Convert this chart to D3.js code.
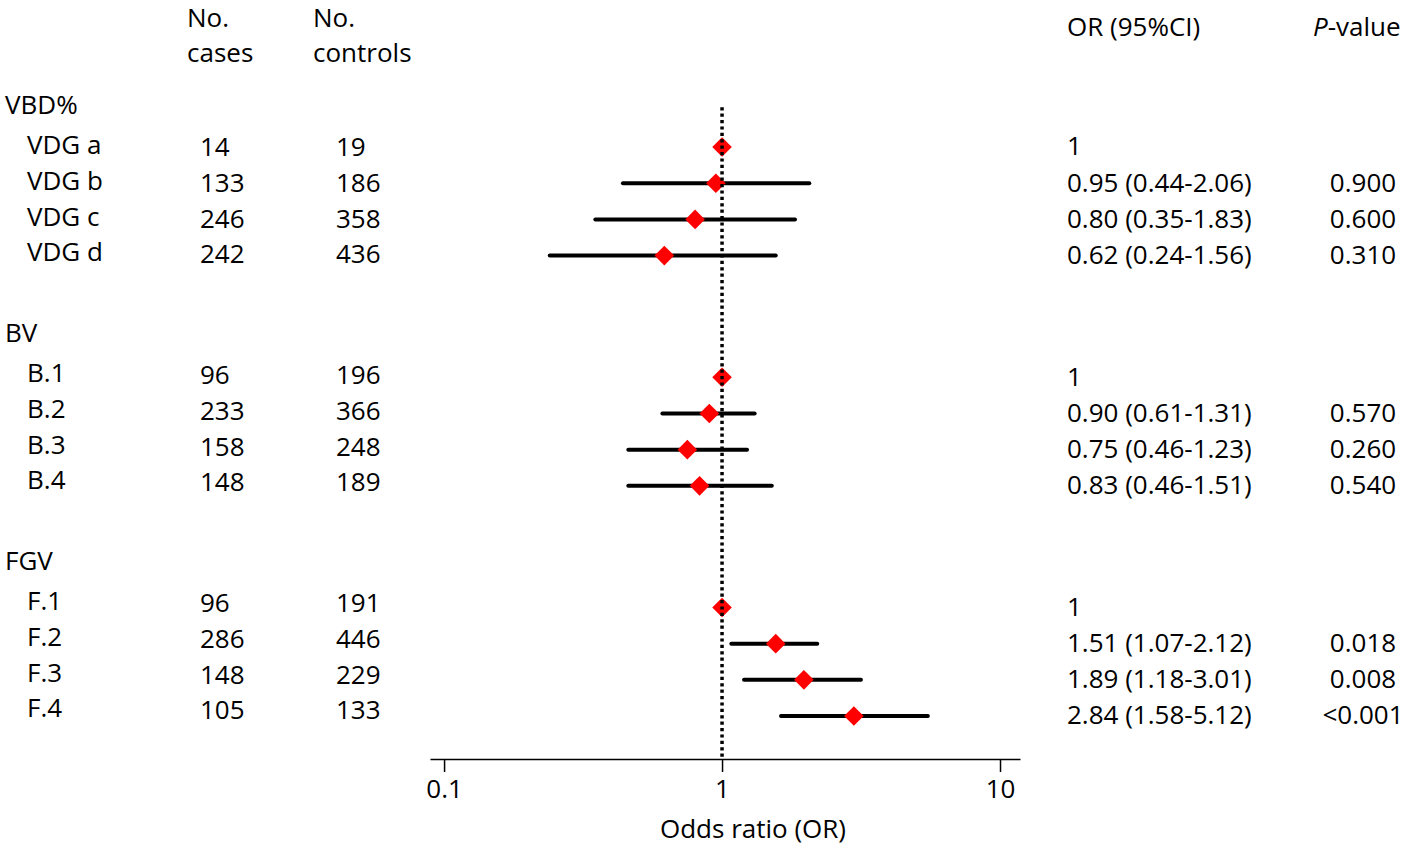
<!DOCTYPE html>
<html><head><meta charset="utf-8">
<script src="https://cdn.jsdelivr.net/npm/d3@7"></script>
<style>
body{margin:0;background:#fff}
svg{display:block}
text{font-family:"Open Sans",sans-serif;font-size:26px;fill:#000}
</style>
</head><body><svg id="chart" width="1415" height="849"></svg>
<script>
// ---- data ----
const groups = ["VBD%", "BV", "FGV"];
const labels = ["VDG a","VDG b","VDG c","VDG d","B.1","B.2","B.3","B.4","F.1","F.2","F.3","F.4"];
const groupIndex = [0,0,0,0,1,1,1,1,2,2,2,2];
const itemIndex  = [0,1,2,3,0,1,2,3,0,1,2,3];
const cases    = [14,133,246,242,96,233,158,148,96,286,148,105];
const controls = [19,186,358,436,196,366,248,189,191,446,229,133];
// text column values
const orLabels = ["1","0.95 (0.44-2.06)","0.80 (0.35-1.83)","0.62 (0.24-1.56)",
                  "1","0.90 (0.61-1.31)","0.75 (0.46-1.23)","0.83 (0.46-1.51)",
                  "1","1.51 (1.07-2.12)","1.89 (1.18-3.01)","2.84 (1.58-5.12)"];
const pValues  = ["","0.900","0.600","0.310","","0.570","0.260","0.540","","0.018","0.008","<0.001"];
// plotted estimates as drawn in the figure
const orValues = [1,0.95,0.80,0.62,1,0.90,0.75,0.83,1,1.56,1.97,2.98];
const ciLower  = [null,0.44,0.35,0.24,null,0.61,0.46,0.46,null,1.08,1.20,1.63];
const ciUpper  = [null,2.06,1.83,1.56,null,1.31,1.23,1.51,null,2.20,3.16,5.50];
const xTicks = [0.1, 1, 10];
const xTickLabels = ["0.1", "1", "10"];
const xExtent = [0.089, 11.8];
const refValue = 1;

// ---- layout ----
const svg = d3.select("#chart");
const groupStep = 6.36;
const rowPos = (g, i) => g * groupStep + i;
const y = d3.scaleLinear().domain([0, 1]).range([147, 183.2]);      // marks
const yText = d3.scaleLinear().domain([0, 1]).range([146.5, 182.35]); // left text columns
const x = d3.scaleLog().domain(xExtent).range([430, 1020]);
const axisY = 759;
const half = 9.3; // half digit height -> baseline offset

const col = {group: 5, label: 27, cases: 200, controls: 336, or: 1067, p: 1363};

// headers
const hdr = svg.append("g");
hdr.append("text").attr("x", 187).attr("y", 27).attr("font-size", 25).text("No.");
hdr.append("text").attr("x", 187).attr("y", 62).attr("font-size", 25).text("cases");
hdr.append("text").attr("x", 313).attr("y", 27).attr("font-size", 25).text("No.");
hdr.append("text").attr("x", 313).attr("y", 62).attr("font-size", 25).text("controls");
hdr.append("text").attr("x", col.or).attr("y", 36).text("OR (95%CI)");
const ph = hdr.append("text").attr("x", 1313).attr("y", 36);
ph.append("tspan").attr("font-style", "italic").text("P");
ph.append("tspan").text("-value");

// group headers
svg.append("g").selectAll("text").data(groups).join("text")
  .attr("x", col.group)
  .attr("y", (d, g) => yText(rowPos(g, 0) - 1.16) + half)
  .text(d => d);

const rows = labels.map((l, k) => ({
  label: l, g: groupIndex[k], i: itemIndex[k], cases: cases[k], controls: controls[k],
  or: orValues[k], lo: ciLower[k], hi: ciUpper[k], orLabel: orLabels[k], p: pValues[k]
}));
const ry = d => y(rowPos(d.g, d.i));
const ty = d => yText(rowPos(d.g, d.i));

const rowG = svg.append("g");
rowG.selectAll(".lab").data(rows).join("text").attr("class", "lab")
  .attr("x", col.label).attr("y", d => ty(d) + half - 2).text(d => d.label);
rowG.selectAll(".cs").data(rows).join("text").attr("class", "cs")
  .attr("x", col.cases).attr("y", d => ty(d) + half).text(d => d.cases);
rowG.selectAll(".ct").data(rows).join("text").attr("class", "ct")
  .attr("x", col.controls).attr("y", d => ty(d) + half).text(d => d.controls);
rowG.selectAll(".ort").data(rows).join("text").attr("class", "ort")
  .attr("x", col.or).attr("y", d => ry(d) - 1 + half).text(d => d.orLabel);
rowG.selectAll(".pv").data(rows).join("text").attr("class", "pv")
  .attr("x", col.p).attr("text-anchor", "middle").attr("y", d => ry(d) - 1 + half).text(d => d.p);

// CI lines
svg.append("g").selectAll("line").data(rows.filter(d => d.lo != null)).join("line")
  .attr("x1", d => x(d.lo)).attr("x2", d => x(d.hi))
  .attr("y1", ry).attr("y2", ry)
  .attr("stroke", "#000").attr("stroke-width", 4).attr("stroke-linecap", "round");

// diamonds
const dsz = 9.8;
svg.append("g").selectAll("path").data(rows).join("path")
  .attr("d", d => {
    const cx = x(d.or), cy = ry(d);
    return `M${cx},${cy - dsz}L${cx + dsz},${cy}L${cx},${cy + dsz}L${cx - dsz},${cy}Z`;
  })
  .attr("fill", "#ff0000");

// reference dotted line
svg.append("line")
  .attr("x1", x(refValue)).attr("x2", x(refValue))
  .attr("y1", y(-1.1)).attr("y2", axisY)
  .attr("stroke", "#000").attr("stroke-width", 3.5).attr("stroke-dasharray", "3.2,3.2");

// axis
const axis = d3.axisBottom(x).tickValues(xTicks).tickFormat((d, i) => xTickLabels[i])
  .tickSizeInner(13).tickSizeOuter(0).tickPadding(8);
const ag = svg.append("g").attr("transform", `translate(0,${axisY})`).call(axis);
ag.select(".domain").attr("stroke", "#000").attr("stroke-width", 1.5);
ag.selectAll(".tick line").attr("stroke", "#000").attr("stroke-width", 1.5);
ag.selectAll(".tick text").attr("font-size", 26).attr("font-family", "'Open Sans',sans-serif").attr("fill", "#000");

svg.append("text").attr("x", 753).attr("y", 838).attr("text-anchor", "middle").text("Odds ratio (OR)");
</script>
</body></html>
